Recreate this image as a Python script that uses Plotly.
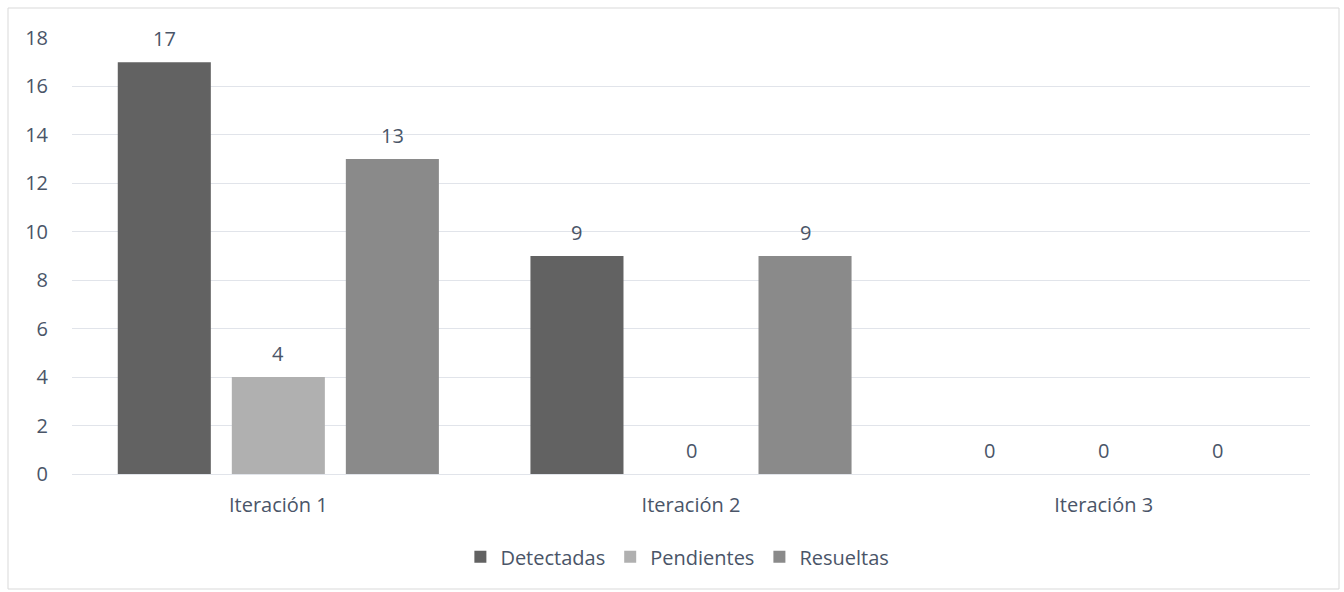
import plotly.graph_objects as go

categories = ["Iteración 1", "Iteración 2", "Iteración 3"]
series_names = ["Detectadas", "Pendientes", "Resueltas"]
detectadas = [17, 9, 0]
pendientes = [4, 0, 0]
resueltas = [13, 9, 0]
y_ticks = [0, 2, 4, 6, 8, 10, 12, 14, 16, 18]

colors = ["#626262", "#b0b0b0", "#8a8a8a"]
text_color = "#4a5568"
font_family = "'Open Sans', 'Noto Sans', sans-serif"
fs = 20

W, H = 1344, 592
ml, mr, mt, mb = 72, 34, 38, 118
plot_w = W - ml - mr
plot_h = H - mt - mb

fig = go.Figure()
all_series = [detectadas, pendientes, resueltas]
for name, vals, col in zip(series_names, all_series, colors):
    fig.add_trace(go.Bar(
        x=categories, y=vals, name=name,
        marker=dict(color=col, line=dict(width=0)),
        hoverinfo="x+y+name",
    ))

# value labels above bars
bargap = 0.171
bargroupgap = 0.184
cat_w = plot_w / len(categories)
group_w = cat_w * (1 - bargap)
slot = group_w / len(series_names)
annotations = []
for i, vals in enumerate(all_series):
    xshift = (i - (len(series_names) - 1) / 2) * slot
    for cat, v in zip(categories, vals):
        annotations.append(dict(
            x=cat, y=v, xref="x", yref="y", text=str(v), showarrow=False,
            xshift=xshift, yshift=24, yanchor="middle",
            font=dict(size=fs, color=text_color, family=font_family),
        ))

fig.update_layout(
    width=W, height=H,
    margin=dict(l=ml, r=mr, t=mt, b=mb),
    paper_bgcolor="white", plot_bgcolor="white",
    barmode="group", bargap=bargap, bargroupgap=bargroupgap,
    font=dict(family=font_family, size=fs, color=text_color),
    showlegend=True,
    legend=dict(orientation="h", x=0.489, xanchor="center", y=-0.19, yanchor="middle",
                font=dict(size=fs, color=text_color), itemwidth=30,
                traceorder="normal"),
    xaxis=dict(showgrid=False, showline=False, ticks="", tickfont=dict(size=fs, color=text_color),
               ticklabelstandoff=17),
    yaxis=dict(range=[0, 18], tickvals=y_ticks, showgrid=True, gridcolor="#e1e4ea",
               gridwidth=1, zeroline=True, zerolinecolor="#e1e4ea", zerolinewidth=1,
               showline=False, ticks="", tickfont=dict(size=fs, color=text_color),
               ticklabelstandoff=23),
    annotations=annotations,
    shapes=[dict(type="rect", xref="paper", yref="paper",
                 x0=(8 - ml) / plot_w, x1=(1339 - ml) / plot_w,
                 y0=-(H - 3 - mt - plot_h) / plot_h, y1=(H - 8 - mb) / plot_h,
                 line=dict(color="#d9d9d9", width=1), fillcolor="rgba(0,0,0,0)", layer="below")],
)

fig.write_html("out.html")
